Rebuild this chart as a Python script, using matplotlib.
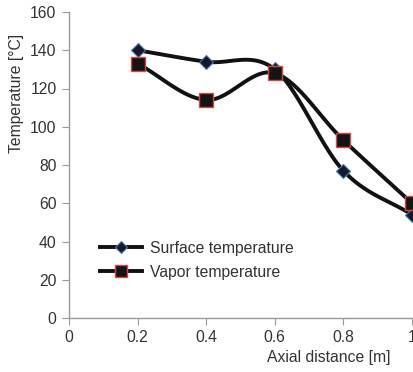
import numpy as np
import matplotlib.pyplot as plt

plt.rcParams["font.family"] = ["Liberation Sans", "DejaVu Sans"]

x = [0.2, 0.4, 0.6, 0.8, 1.0]
surface = [140, 134, 130, 77, 54]
vapor = [133, 114, 128, 93, 60]
xticks = [0, 0.2, 0.4, 0.6, 0.8, 1]
xticklabels = ["0", "0.2", "0.4", "0.6", "0.8", "1"]
yticks = [0, 20, 40, 60, 80, 100, 120, 140, 160]


def smooth(xs, ys, n=30):
    # Catmull-Rom style smoothing between the data points
    xs = np.asarray(xs, float); ys = np.asarray(ys, float)
    px = np.concatenate([[2*xs[0]-xs[1]], xs, [2*xs[-1]-xs[-2]]])
    py = np.concatenate([[2*ys[0]-ys[1]], ys, [2*ys[-1]-ys[-2]]])
    ox, oy = [], []
    t = np.linspace(0, 1, n)
    for i in range(1, len(px)-2):
        for arr, out in ((px, ox), (py, oy)):
            p0, p1, p2, p3 = arr[i-1], arr[i], arr[i+1], arr[i+2]
            out.extend(0.5*((2*p1) + (-p0+p2)*t + (2*p0-5*p1+4*p2-p3)*t**2 + (-p0+3*p1-3*p2+p3)*t**3))
    return np.array(ox), np.array(oy)


fig = plt.figure(figsize=(4.13, 3.72), dpi=100)
ax = fig.add_axes([69/413, 1-318/372, (412-69)/413, (318-12)/372])

tc = "#333333"
fs = 11.3
sx, sy = smooth(x, surface)
vx, vy = smooth(x, vapor)
ax.plot(sx, sy, color="#111111", lw=2.8, clip_on=False, zorder=2)
ax.plot(vx, vy, color="#111111", lw=2.8, clip_on=False, zorder=2)
ax.plot(x, surface, ls="none", marker="D", ms=7, mfc="#141a2a", mec="#4a78b0", mew=0.8, clip_on=False, zorder=3)
ax.plot(x, vapor, ls="none", marker="s", ms=10, mfc="#141414", mec="#d04848", mew=1.0, clip_on=False, zorder=3)

h1, = ax.plot([], [], color="#111111", lw=2.8, marker="D", ms=6, mfc="#141a2a", mec="#4a78b0", mew=0.8)
h2, = ax.plot([], [], color="#111111", lw=2.8, marker="s", ms=9, mfc="#141414", mec="#d04848", mew=1.0)
ax.legend([h1, h2], ["Surface temperature", "Vapor temperature"], loc="upper left",
          bbox_to_anchor=(0.048, 0.298), frameon=False, fontsize=fs, handlelength=2.7,
          handletextpad=0.5, labelspacing=0.55, labelcolor=tc)

ax.set_xlim(0, 1.0)
ax.set_ylim(0, 160)
ax.set_xticks(xticks)
ax.set_xticklabels(xticklabels)
ax.set_yticks(yticks)
for s in ["top", "right"]:
    ax.spines[s].set_visible(False)
for s in ["left", "bottom"]:
    ax.spines[s].set_color("#999999")
    ax.spines[s].set_linewidth(1.0)
ax.tick_params(direction="out", length=5, color="#999999", labelsize=fs, labelcolor=tc, pad=4)
ax.set_ylabel("Temperature [°C]", fontsize=fs, color=tc)
ax.yaxis.set_label_coords(-0.131, 0.735)
ax.set_xlabel("Axial distance [m]", fontsize=fs, color=tc)
ax.xaxis.set_label_coords(0.758, -0.103)

fig.savefig("out.png", dpi=100)
